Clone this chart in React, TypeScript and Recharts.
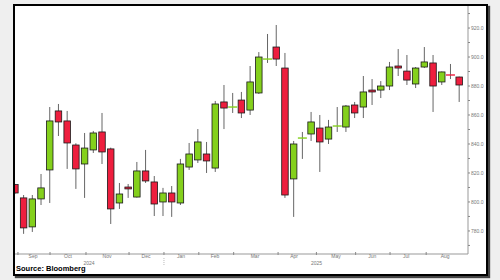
import React from "react";
import { ComposedChart, Bar, XAxis, YAxis } from "recharts";

// weekly candles, Aug 2024 - Aug 2025
const OPEN = [
  812, 802.8, 782.8, 802.1, 822.1, 862.8, 855.9, 839.3, 826.2, 835.9,
  848.3, 836.6, 799.3, 810.3, 803.4, 821.4, 813.8, 800, 806.2, 799.3,
  824.1, 829, 833.1, 823.4, 869, 865.3, 870.3, 863.4, 875.2, 898.4,
  906.9, 892.4, 815.9, 843.9, 846.9, 851, 843.4, 852.2, 851.7, 866.9,
  865.5, 877.2, 877.2, 880, 893.8, 890.3, 881.4, 893.1, 895.9, 882.8,
  887.8, 886.2,
];
const HIGH = [
  812.5, 804.8, 804.8, 819.3, 865.5, 867.6, 862.8, 840.5, 847.6, 849,
  861.4, 837.5, 813.1, 812.4, 827.6, 835.9, 817.9, 809.7, 811, 829.7,
  840.7, 850.3, 841.4, 869.7, 880.7, 875.2, 875.9, 893.8, 903.4, 915.9,
  922.1, 902.8, 842.1, 848.3, 862.1, 860, 856.6, 865.5, 866.9, 869,
  886.9, 884.8, 883.4, 896.6, 905.5, 901.4, 893.1, 906.9, 901.4, 890,
  895.2, 886.5,
];
const LOW = [
  805.5, 778, 779.3, 797.9, 799.3, 845.5, 822.8, 809, 802.8, 833.8,
  826.2, 784.8, 795.2, 802.8, 803, 813.1, 790.3, 790.3, 789.7, 797.9,
  822.1, 826.9, 820, 820.7, 850.3, 861.4, 857.9, 860, 874.5, 895.9,
  893.8, 802.8, 789.7, 829.7, 842.1, 820.7, 840, 848.3, 848.3, 857.9,
  857.9, 866.9, 871.7, 877.2, 886.9, 880.7, 878.6, 892.4, 862.1, 880.7,
  884.8, 869,
];
const CLOSE = [
  806.2, 782.1, 802.1, 809.7, 855.9, 855.2, 840.7, 822.8, 837.2, 847.6,
  834.5, 795.2, 805.5, 809, 821.4, 814.5, 798.6, 806.2, 800, 826.2,
  833.1, 841.4, 828.3, 867.6, 864.8, 865.7, 861.4, 882.8, 900, 898.8,
  898.6, 804.8, 840, 844.3, 855.2, 841.4, 851.7, 852.6, 866.2, 861.4,
  875.9, 875.9, 880, 893.1, 892.4, 884.1, 892.4, 896.6, 880, 889.7,
  887.4, 880.7,
];

const MONTHS = ["Sep", "Oct", "Nov", "Dec", "Jan", "Feb", "Mar", "Apr", "May", "Jun", "Jul", "Aug"];
const MONTH_POS = [2.07, 6.08, 10.56, 15.04, 19.06, 22.96, 27.55, 32.03, 36.85, 41.0, 44.9, 49.37];
const BOUNDARY_POS = [0.34, 4.02, 8.15, 13.09, 17.1, 21.1, 25.1, 30.2, 34.6, 39.1, 43.05, 47.2];
const YEARS = ["2024", "2025"];
const YEAR_POS = [8.5, 34.62];
const YEAR_BREAK = 17.1;
const Y_TICKS = [770, 780, 790, 800, 810, 820, 830, 840, 850, 860, 870, 880, 890, 900, 910, 920, 930];

const data = OPEN.map((o, i) => ({
  i,
  o,
  h: HIGH[i],
  l: LOW[i],
  c: CLOSE[i],
  range: [LOW[i], HIGH[i]],
}));

const GREEN = "#84d01c";
const RED = "#ee1e3e";
const FONT = "'Liberation Sans', Arial, sans-serif";

const Candle = (props: any) => {
  const { x, y, width, height, payload } = props;
  const { o, h, l, c } = payload;
  const up = c >= o;
  const ratio = height / (h - l);
  const yOf = (v: number) => y + (h - v) * ratio;
  const cx = x + width / 2;
  const top = yOf(Math.max(o, c));
  const bot = yOf(Math.min(o, c));
  const bodyH = bot - top;
  return (
    <g>
      <line x1={cx} x2={cx} y1={y} y2={y + height} stroke="#666" strokeWidth={1} />
      {bodyH < 1.6 ? (
        <line x1={cx - 4.5} x2={cx + 4.5} y1={(top + bot) / 2} y2={(top + bot) / 2} stroke={up ? GREEN : RED} strokeWidth={1.4} />
      ) : (
        <rect x={x} y={top} width={width} height={bodyH} fill={up ? GREEN : RED} stroke="#1a1a1a" strokeWidth={0.8} />
      )}
    </g>
  );
};

const XTick = (props: any) => {
  const { x, y, payload } = props;
  const v = payload.value;
  const m = MONTH_POS.indexOf(v);
  if (m >= 0) {
    return (
      <text x={x} y={y + 4} textAnchor="middle" fontSize={5} fill="#777" fontFamily={FONT}>
        {MONTHS[m]}
      </text>
    );
  }
  const yr = YEAR_POS.indexOf(v);
  if (yr >= 0) {
    return (
      <text x={x} y={y + 11} textAnchor="middle" fontSize={5} fill="#777" fontFamily={FONT}>
        {YEARS[yr]}
      </text>
    );
  }
  return (
    <g>
      <line x1={x} x2={x} y1={y - 2} y2={y + 1} stroke="#888" strokeWidth={1} />
      {v === YEAR_BREAK && (
        <line x1={x} x2={x} y1={y + 4} y2={y + 12} stroke="#bbb" strokeWidth={1} strokeDasharray="1 1" />
      )}
    </g>
  );
};

const YTick = (props: any) => {
  const { x, y, payload } = props;
  const v = payload.value;
  return (
    <g>
      <line x1={x - 3} x2={x - 1} y1={y} y2={y} stroke="#888" strokeWidth={1} />
      {v % 20 === 0 && (
        <text x={x} y={y + 1.8} fontSize={5} fill="#777" fontFamily={FONT}>
          {v.toFixed(1)}
        </text>
      )}
    </g>
  );
};

export default function App() {
  return (
    <div style={{ position: "absolute", left: 0, top: 0, width: 500, height: 280, background: "#efefef" }}>
      <div
        style={{
          position: "absolute",
          left: 13,
          top: 4,
          width: 471,
          height: 268,
          border: "2px solid #000",
          boxShadow: "2px 2px 1px #444",
          background: "#fff",
        }}
      >
        <ComposedChart width={471} height={268} data={data} margin={{ top: 0, right: 0, bottom: 0, left: 0 }}>
          <XAxis
            dataKey="i"
            type="number"
            domain={[0, 52]}
            allowDataOverflow
            ticks={[...BOUNDARY_POS, ...MONTH_POS, ...YEAR_POS]}
            interval={0}
            tick={<XTick />}
            tickLine={false}
            tickSize={0}
            tickMargin={0}
            axisLine={{ stroke: "#999" }}
            height={20}
          />
          <YAxis
            orientation="right"
            domain={[764.1, 935.2]}
            allowDataOverflow
            ticks={Y_TICKS}
            interval={0}
            tick={<YTick />}
            tickLine={false}
            tickSize={0}
            tickMargin={3}
            axisLine={{ stroke: "#999" }}
            width={18}
          />
          <Bar dataKey="range" barSize={6.5} shape={<Candle />} isAnimationActive={false} />
        </ComposedChart>
        <div
          style={{
            position: "absolute",
            left: 1,
            top: 259,
            fontFamily: FONT,
            fontWeight: "bold",
            fontSize: 7.5,
            lineHeight: "8px",
            color: "#000",
          }}
        >
          Source: Bloomberg
        </div>
      </div>
    </div>
  );
}
